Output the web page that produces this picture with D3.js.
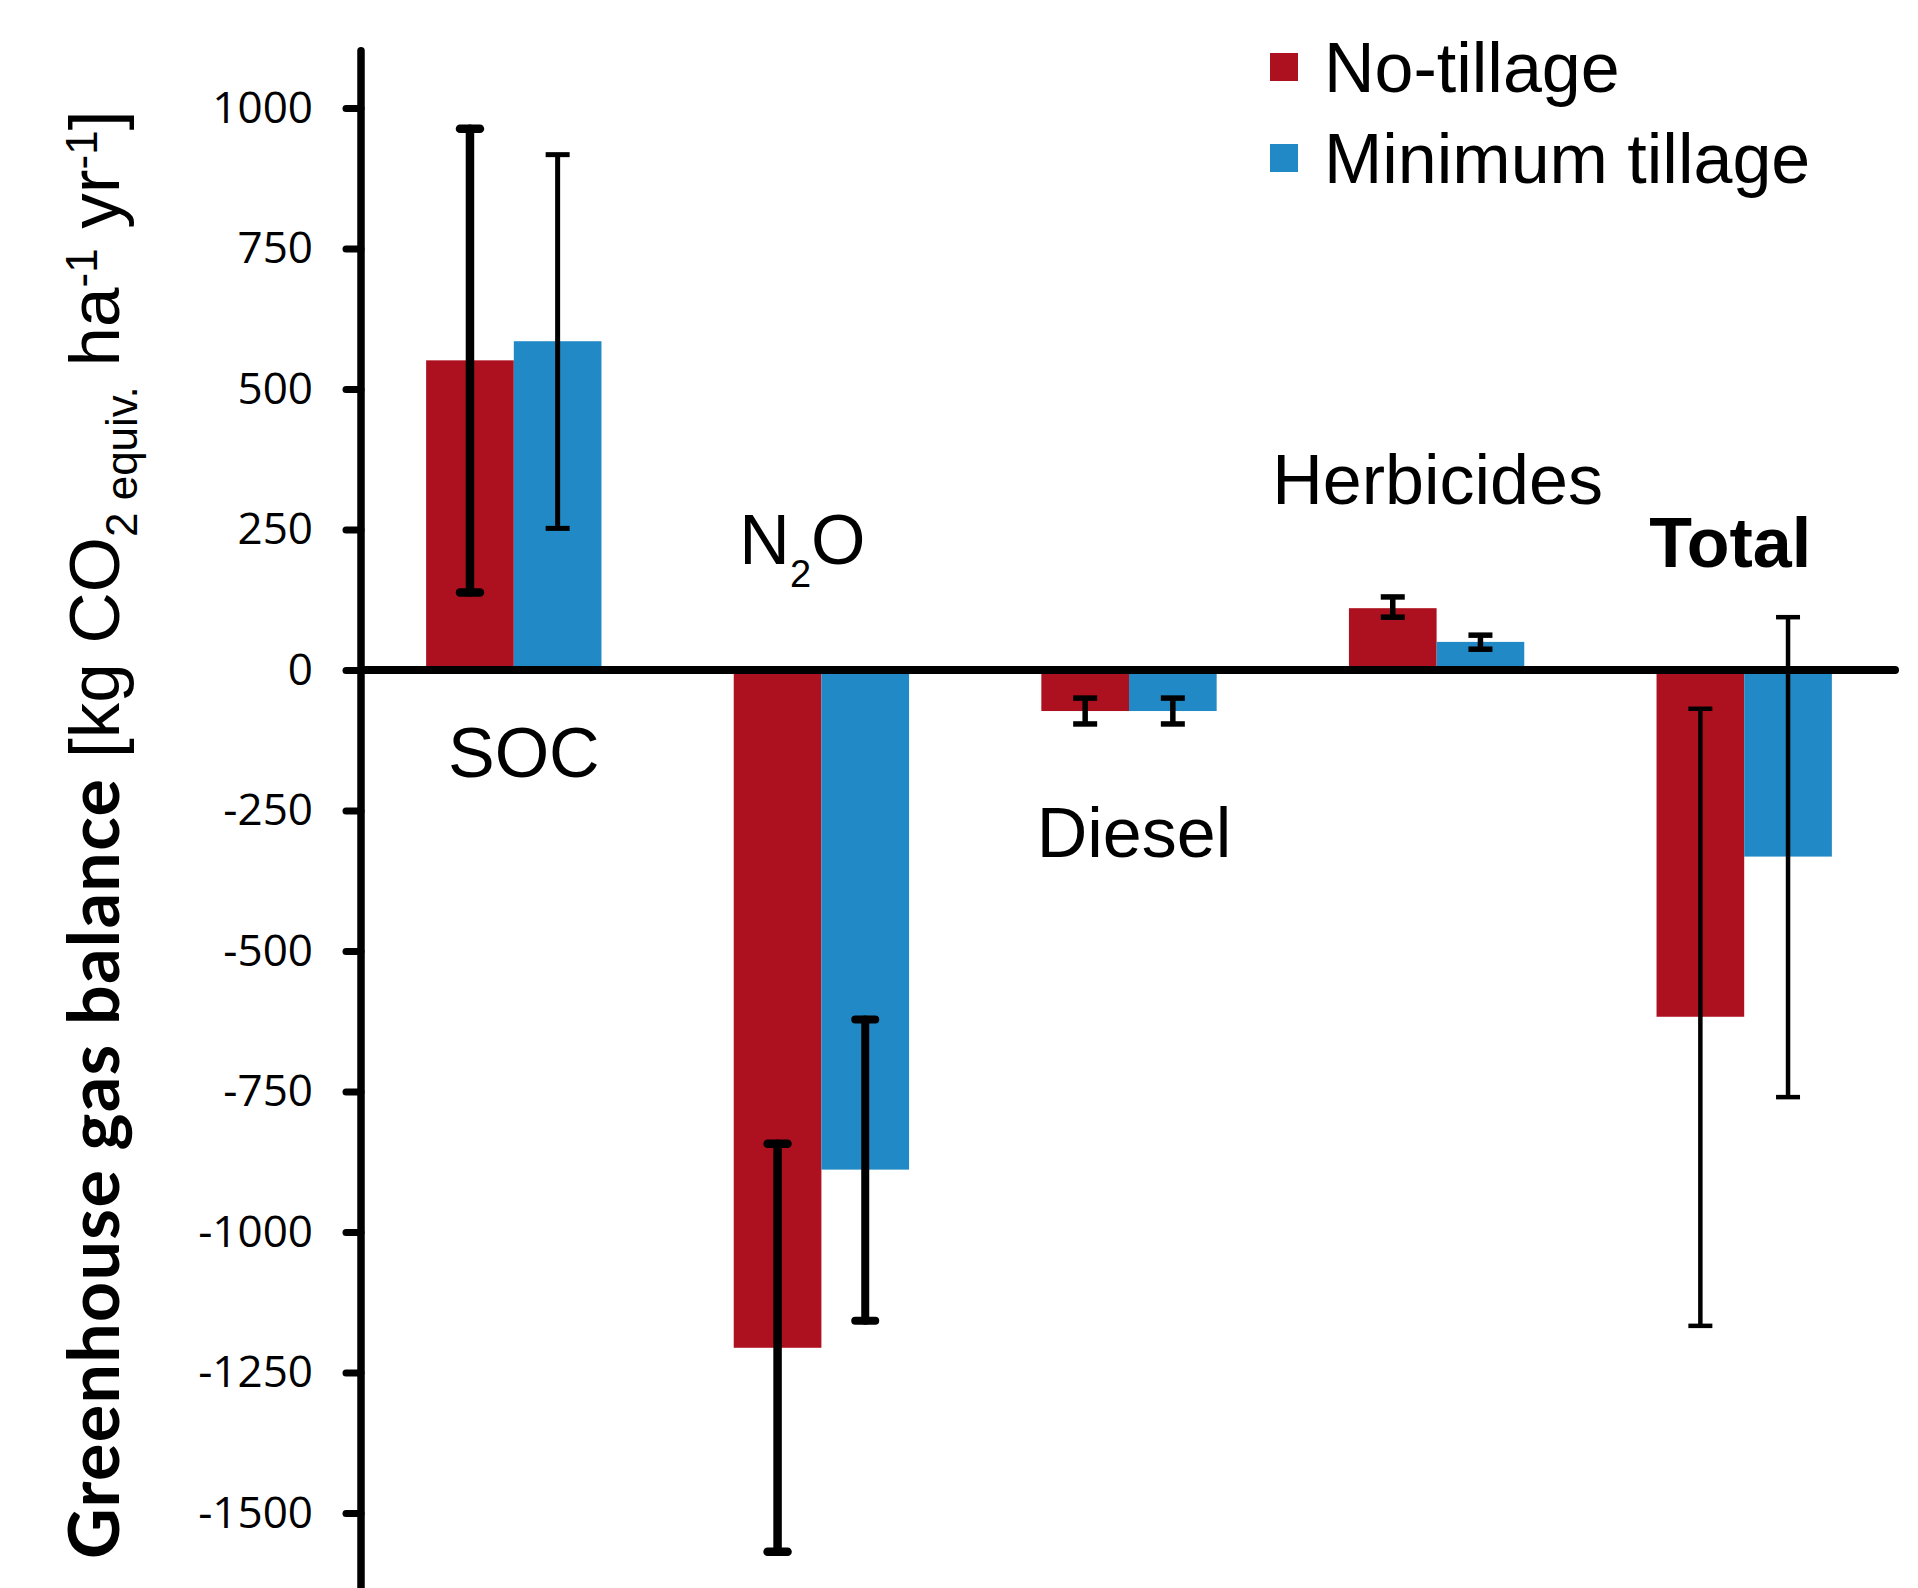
<!DOCTYPE html>
<html>
<head>
<meta charset="utf-8">
<script src="https://cdn.jsdelivr.net/npm/d3@7"></script>
<style>
  body { margin: 0; background: #ffffff; }
  svg { display: block; }
</style>
</head>
<body>
<div id="chart"></div>
<script>
// Categories and series
const categories = ["SOC", "N2O", "Diesel", "Herbicides", "Total"];
const seriesNames = ["No-tillage", "Minimum tillage"];
const seriesColors = ["#ad1120", "#2189c5"];

// Mean values (kg CO2 equiv. ha-1 yr-1)
const noTillValues = [551, -1206, -73, 110, -617];
const minTillValues = [585, -889, -73, 50, -332];

// Error bar ends
const noTillLow = [138, -1569, -96, 94, -1167];
const noTillHigh = [963, -843, -50, 130, -69];
const minTillLow = [252, -1158, -96, 37, -760];
const minTillHigh = [917, -622, -50, 62, 94];

// Y ticks
const yTicks = [1000, 750, 500, 250, 0, -250, -500, -750, -1000, -1250, -1500];

// Error bar line widths per category (style only)
const noTillErrWidth = [8.5, 8.5, 5.5, 5.5, 4.5];
const minTillErrWidth = [5, 8, 5.5, 5.5, 4.5];

// Category label anchors (value units) and horizontal nudges
const labelValue = [-190, 189, -333, 295, 183];
const labelNudge = [10, -19, 5, 1, -14];

const width = 1918, height = 1588;

const svg = d3.select("#chart").append("svg")
  .attr("width", width)
  .attr("height", height);

svg.append("rect").attr("width", width).attr("height", height).attr("fill", "#ffffff");

// Scales
const y = d3.scaleLinear().domain([-1500, 1000]).range([1513, 108]);

const x0 = d3.scaleBand()
  .domain(categories)
  .range([360, 1898])
  .paddingInner(0.43)
  .paddingOuter(0.215);

const x1 = d3.scaleBand()
  .domain(seriesNames)
  .range([0, x0.bandwidth()]);

// Build rows for drawing
const rows = [];
categories.forEach((c, i) => {
  rows.push({ cat: c, s: seriesNames[0], v: noTillValues[i], lo: noTillLow[i], hi: noTillHigh[i], w: noTillErrWidth[i], color: seriesColors[0] });
  rows.push({ cat: c, s: seriesNames[1], v: minTillValues[i], lo: minTillLow[i], hi: minTillHigh[i], w: minTillErrWidth[i], color: seriesColors[1] });
});

// Bars
svg.append("g").selectAll("rect")
  .data(rows)
  .join("rect")
  .attr("x", d => x0(d.cat) + x1(d.s))
  .attr("width", x1.bandwidth())
  .attr("y", d => y(Math.max(0, d.v)))
  .attr("height", d => Math.abs(y(d.v) - y(0)))
  .attr("fill", d => d.color);

// Error bars
const err = svg.append("g").selectAll("g")
  .data(rows)
  .join("g")
  .attr("stroke", "#000")
  .attr("stroke-width", d => d.w)
  .attr("stroke-linecap", d => d.w > 7 ? "round" : "butt");

const cx = d => x0(d.cat) + x1(d.s) + x1.bandwidth() / 2;
const capHalf = d => d.w > 7 ? 10 : 12;

err.append("line")
  .attr("x1", cx).attr("x2", cx)
  .attr("y1", d => y(d.lo)).attr("y2", d => y(d.hi));

err.append("line")
  .attr("x1", d => cx(d) - capHalf(d)).attr("x2", d => cx(d) + capHalf(d))
  .attr("y1", d => y(d.lo)).attr("y2", d => y(d.lo));

err.append("line")
  .attr("x1", d => cx(d) - capHalf(d)).attr("x2", d => cx(d) + capHalf(d))
  .attr("y1", d => y(d.hi)).attr("y2", d => y(d.hi));

// Y axis
const yAxis = svg.append("g")
  .attr("transform", `translate(361,0)`)
  .call(d3.axisLeft(y).tickValues(yTicks).tickSize(15).tickSizeOuter(0).tickPadding(33).tickFormat(d3.format("d")));

yAxis.select(".domain").remove();
yAxis.selectAll(".tick line")
  .attr("stroke", "#000")
  .attr("stroke-width", 7)
  .attr("stroke-linecap", "round");
yAxis.selectAll(".tick text")
  .attr("font-family", "'Open Sans', sans-serif")
  .attr("font-size", 44)
  .attr("fill", "#000")
  .text(d => String(d));

yAxis.append("line")
  .attr("x1", 0).attr("x2", 0)
  .attr("y1", y(1102)).attr("y2", y(-1650))
  .attr("stroke", "#000")
  .attr("stroke-width", 7.5)
  .attr("stroke-linecap", "round");

// Zero line
svg.append("line")
  .attr("x1", 361).attr("x2", 1895)
  .attr("y1", y(0)).attr("y2", y(0))
  .attr("stroke", "#000")
  .attr("stroke-width", 8)
  .attr("stroke-linecap", "round");

// Category labels
const labelFont = "'Liberation Sans', Arial, sans-serif";
categories.forEach((c, i) => {
  const t = svg.append("text")
    .attr("x", x0(c) + x0.bandwidth() / 2 + labelNudge[i])
    .attr("y", y(labelValue[i]))
    .attr("text-anchor", "middle")
    .attr("font-family", labelFont)
    .attr("font-size", 70)
    .attr("fill", "#000");
  if (c === "N2O") {
    t.append("tspan").text("N");
    t.append("tspan").attr("font-size", 38).attr("dy", 23).text("2");
    t.append("tspan").attr("dy", -23).text("O");
  } else if (c === "Total") {
    t.attr("font-weight", "bold").text(c);
  } else {
    t.text(c);
  }
});

// Legend
const legend = svg.append("g");
seriesNames.forEach((name, i) => {
  legend.append("rect")
    .attr("x", 1270).attr("y", 53 + i * 91)
    .attr("width", 28).attr("height", 28)
    .attr("fill", seriesColors[i]);
  legend.append("text")
    .attr("x", 1324).attr("y", 92 + i * 91)
    .attr("font-family", labelFont)
    .attr("font-size", 70)
    .attr("fill", "#000")
    .text(name);
});

// Y axis title
const title = svg.append("text")
  .attr("transform", "translate(119,1559) rotate(-90)")
  .attr("font-family", labelFont)
  .attr("font-size", 71)
  .attr("fill", "#000");

title.append("tspan")
  .attr("font-family", "Lato, 'Open Sans', sans-serif")
  .attr("font-weight", "bold")
  .attr("font-size", 70)
  .attr("textLength", 780)
  .text("Greenhouse gas balance");
title.append("tspan").text(" [kg CO");
title.append("tspan").attr("font-size", 44).attr("dy", 18).text("2 equiv.");
title.append("tspan").attr("dy", -18).text(" ha");
title.append("tspan").attr("font-size", 44).attr("dy", -22).text("-1");
title.append("tspan").attr("dy", 22).text(" yr");
title.append("tspan").attr("font-size", 44).attr("dy", -22).text("-1");
title.append("tspan").attr("dy", 22).text("]");
</script>
</body>
</html>
